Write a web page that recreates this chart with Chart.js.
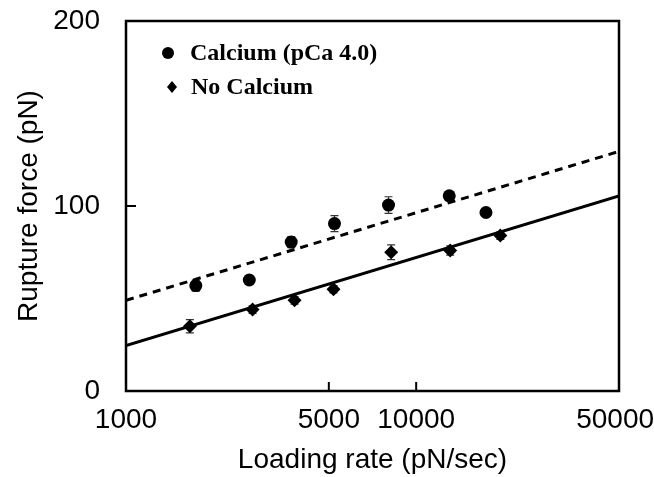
<!DOCTYPE html>
<html>
<head>
<meta charset="utf-8">
<script src="https://cdn.jsdelivr.net/npm/chart.js@4.4.1/dist/chart.umd.min.js"></script>
<style>
  html, body { margin: 0; padding: 0; background: #fff; }
  #wrap { width: 654px; height: 477px; }
</style>
</head>
<body>
<div id="wrap"><canvas id="ruptureChart" width="654" height="477"></canvas></div>
<script>
/* ── Data ───────────────────────────────────────────── */
const xTickValues = [1000, 5000, 10000, 50000];
const yTickValues = [0, 100, 200];

const calciumRate  = [1740, 2660, 3710, 5230, 8030, 13000, 17400];
const calciumForce = [57, 60, 80.5, 90.5, 100.5, 105.5, 96.5];
const calciumErr   = [3, 2, 3, 4.3, 4.5, 2, 2];

const noCaRate  = [1660, 2730, 3810, 5190, 8200, 13100, 19500];
const noCaForce = [35, 44, 49, 55, 75, 76, 84];
const noCaErr   = [3.6, 2, 2, 2, 4, 2.5, 2];

const fitRate       = [1000, 50000];
const calciumFitVal = [49, 129.5];
const noCaFitVal    = [24.5, 105.5];

const legendLabels = ['Calcium (pCa 4.0)', 'No Calcium'];

function toPoints(xs, ys) {
    return xs.map((x, i) => ({ x: x, y: ys[i] }));
}

/* ── Plugins: frame, inward ticks, error bars, legend ─── */
const framePlugin = {
    id: 'frame',
    afterDatasetsDraw(chart) {
        const { ctx, chartArea: a, scales } = chart;
        ctx.save();
        ctx.strokeStyle = '#000';
        ctx.lineWidth = 2.5;
        ctx.strokeRect(a.left, a.top, a.right - a.left, a.bottom - a.top);

        // inward tick marks
        ctx.lineWidth = 2;
        xTickValues.slice(1, -1).forEach(v => {
            const px = scales.x.getPixelForValue(v);
            ctx.beginPath();
            ctx.moveTo(px, a.bottom);
            ctx.lineTo(px, a.bottom - 9);
            ctx.stroke();
        });
        yTickValues.slice(1, -1).forEach(v => {
            const py = scales.y.getPixelForValue(v);
            ctx.beginPath();
            ctx.moveTo(a.left, py);
            ctx.lineTo(a.left + 10, py);
            ctx.stroke();
        });
        ctx.restore();
    }
};

const errorBarPlugin = {
    id: 'errorBars',
    beforeDatasetsDraw(chart) {
        const { ctx, scales } = chart;
        const sets = [[calciumRate, calciumForce, calciumErr], [noCaRate, noCaForce, noCaErr]];
        ctx.save();
        ctx.strokeStyle = '#333';
        ctx.lineWidth = 1.2;
        sets.forEach(([xs, ys, es]) => {
            xs.forEach((x, i) => {
                const px = scales.x.getPixelForValue(x);
                const top = scales.y.getPixelForValue(ys[i] + es[i]);
                const bot = scales.y.getPixelForValue(ys[i] - es[i]);
                ctx.beginPath();
                ctx.moveTo(px, top); ctx.lineTo(px, bot);
                ctx.moveTo(px - 4, top); ctx.lineTo(px + 4, top);
                ctx.moveTo(px - 4, bot); ctx.lineTo(px + 4, bot);
                ctx.stroke();
            });
        });
        ctx.restore();
    }
};

const legendPlugin = {
    id: 'innerLegend',
    afterDraw(chart) {
        const { ctx } = chart;
        ctx.save();
        ctx.fillStyle = '#000';
        // circle marker
        ctx.beginPath();
        ctx.arc(168, 53, 6, 0, Math.PI * 2);
        ctx.fill();
        // diamond marker
        ctx.beginPath();
        ctx.moveTo(172, 81); ctx.lineTo(177, 87); ctx.lineTo(172, 93); ctx.lineTo(167, 87);
        ctx.closePath();
        ctx.fill();
        ctx.font = 'bold 24px "Liberation Serif", "Times New Roman", serif';
        ctx.textBaseline = 'middle';
        ctx.fillText(legendLabels[0], 190, 54);
        ctx.fillText(legendLabels[1], 191, 88);
        ctx.restore();
    }
};

/* ── Chart ──────────────────────────────────────────── */
Chart.defaults.font.family = "'Liberation Sans', Arial, Helvetica, sans-serif";
Chart.defaults.color = '#000';

new Chart(document.getElementById('ruptureChart'), {
    type: 'scatter',
    data: {
        datasets: [
            {
                label: legendLabels[0],
                data: toPoints(calciumRate, calciumForce),
                pointStyle: 'circle',
                pointRadius: 6.5,
                backgroundColor: '#000',
                borderColor: '#000',
                borderWidth: 0
            },
            {
                label: legendLabels[1],
                data: toPoints(noCaRate, noCaForce),
                pointStyle: 'rectRot',
                pointRadius: 7,
                backgroundColor: '#000',
                borderColor: '#000',
                borderWidth: 0
            },
            {
                label: 'Calcium fit',
                data: toPoints(fitRate, calciumFitVal),
                showLine: true,
                pointRadius: 0,
                borderColor: '#000',
                borderWidth: 3,
                borderDash: [8, 6]
            },
            {
                label: 'No Calcium fit',
                data: toPoints(fitRate, noCaFitVal),
                showLine: true,
                pointRadius: 0,
                borderColor: '#000',
                borderWidth: 3
            }
        ]
    },
    options: {
        responsive: false,
        animation: false,
        layout: { padding: { top: 21, right: 35, left: 0, bottom: 0 } },
        plugins: {
            legend: { display: false },
            tooltip: { enabled: false }
        },
        scales: {
            x: {
                type: 'logarithmic',
                min: 1000,
                max: 50000,
                grid: { display: false },
                border: { display: false },
                afterBuildTicks: scale => { scale.ticks = xTickValues.map(v => ({ value: v })); },
                afterFit: scale => {
                    scale.height = 86;
                    scale.paddingLeft = 0;
                    scale.paddingRight = 0;
                },
                ticks: {
                    padding: 4,
                    maxRotation: 0,
                    autoSkip: false,
                    font: { size: 28 },
                    // trailing space nudges the last label inside the canvas
                    callback: v => v === 50000 ? '50000 ' : String(v)
                },
                title: {
                    display: true,
                    text: 'Loading rate (pN/sec)',
                    font: { size: 28 },
                    padding: { top: 0, bottom: 0 }
                }
            },
            y: {
                min: 0,
                max: 200,
                grid: { display: false },
                border: { display: false },
                afterBuildTicks: scale => { scale.ticks = yTickValues.map(v => ({ value: v })); },
                afterFit: scale => {
                    scale.width = 126;
                    scale.paddingTop = 0;
                    scale.paddingBottom = 0;
                },
                ticks: {
                    padding: 18,
                    font: { size: 28 }
                },
                title: {
                    display: true,
                    text: 'Rupture force (pN)',
                    font: { size: 28 },
                    padding: { top: 12, bottom: 0 }
                }
            }
        }
    },
    plugins: [errorBarPlugin, framePlugin, legendPlugin]
});
</script>
</body>
</html>
